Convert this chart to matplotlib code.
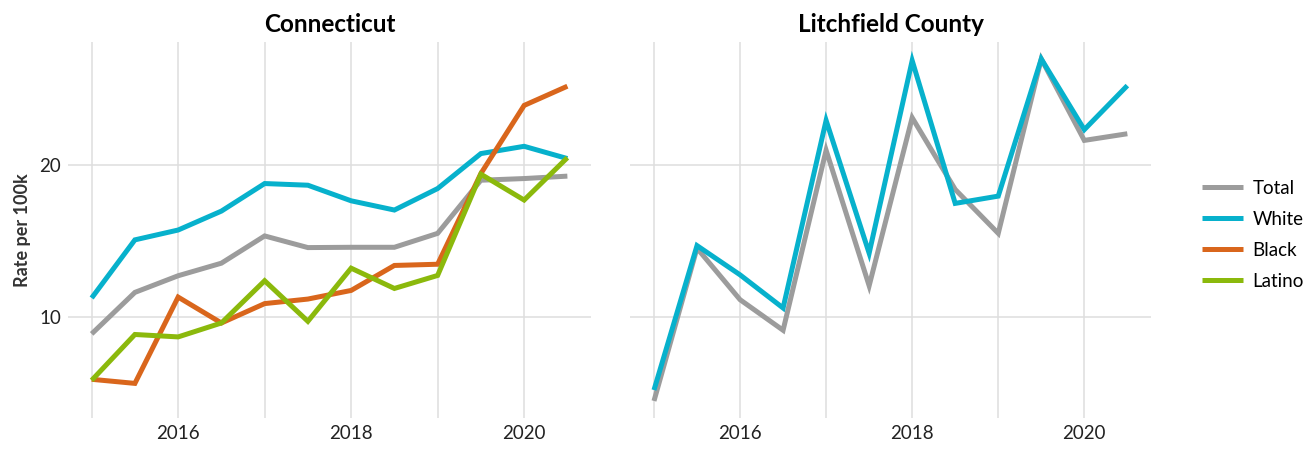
import matplotlib
matplotlib.use("Agg")
import matplotlib.pyplot as plt
import numpy as np
from matplotlib.ticker import FixedLocator

plt.rcParams['font.family'] = ['Lato', 'DejaVu Sans']

years = [2015, 2015.5, 2016, 2016.5, 2017, 2017.5, 2018, 2018.5, 2019, 2019.5, 2020, 2020.5]
panels = ["Connecticut", "Litchfield County"]
groups = ["Total", "White", "Black", "Latino"]
colors = {"Total": "#9c9c9c", "White": "#07b1cc", "Black": "#d9661c", "Latino": "#8bb90c"}

ct_total = [8.86, 11.6, 12.7, 13.53, 15.33, 14.56, 14.58, 14.58, 15.5, 19.01, 19.12, 19.28]
ct_white = [11.23, 15.07, 15.72, 16.97, 18.79, 18.68, 17.65, 17.04, 18.46, 20.77, 21.25, 20.44]
ct_black = [5.86, 5.59, 11.29, 9.58, 10.86, 11.16, 11.73, 13.38, 13.46, 19.45, 23.95, 25.22]
ct_latino = [5.79, 8.82, 8.66, 9.58, 12.37, 9.69, 13.2, 11.86, 12.72, 19.41, 17.7, 20.5]

lc_total = [4.43, 14.52, 11.12, 9.1, 20.99, 12.04, 23.14, 18.4, 15.5, 27.02, 21.64, 22.08]
lc_white = [5.15, 14.69, 12.76, 10.57, 22.96, 14.19, 26.91, 17.48, 17.96, 27.02, 22.35, 25.26]

data = {
    "Connecticut": {"Total": ct_total, "White": ct_white, "Black": ct_black, "Latino": ct_latino},
    "Litchfield County": {"Total": lc_total, "White": lc_white},
}

fig = plt.figure(figsize=(13.05, 4.5), dpi=100)
ax1 = fig.add_axes([0.052, 0.071, 0.401, 0.836])
ax2 = fig.add_axes([0.483, 0.071, 0.399, 0.836], sharey=ax1)

allv = ct_total + ct_white + ct_black + ct_latino + lc_total + lc_white
lo, hi = min(allv), max(allv)
pad = 0.05 * (hi - lo)
xpad = 0.05 * (years[-1] - years[0])

handles = []
for ax, name in zip([ax1, ax2], panels):
    for g in groups:
        vals = data[name].get(g)
        if vals is None:
            h, = ax.plot([], [], color=colors[g], lw=3.6, label=g)
        else:
            h, = ax.plot(years, vals, color=colors[g], lw=3.6, label=g,
                         solid_capstyle='butt', solid_joinstyle='miter')
        if ax is ax1:
            handles.append(h)
    ax.set_xlim(years[0] - xpad, years[-1] + xpad)
    ax.set_ylim(lo - pad, hi + pad)
    ax.xaxis.set_major_locator(FixedLocator([2016, 2018, 2020]))
    ax.xaxis.set_minor_locator(FixedLocator([2015, 2017, 2019]))
    ax.yaxis.set_major_locator(FixedLocator([10, 20]))
    ax.grid(True, which='both', axis='x', color='#dedede', lw=1.1)
    ax.grid(True, which='major', axis='y', color='#dedede', lw=1.1)
    ax.set_axisbelow(True)
    for s in ax.spines.values():
        s.set_visible(False)
    ax.tick_params(which='both', length=0, labelsize=13.5, pad=5, colors='#222222')
    ax.set_xticklabels(['2016', '2018', '2020'])
    ax.set_title(name, fontsize=17.5, fontweight='bold', pad=7)

ax2.tick_params(axis='y', labelleft=False)
ax1.set_ylabel("Rate per 100k", fontsize=13, fontweight='bold', labelpad=6, color='#333333')

fig.legend(handles=handles, labels=groups, loc='center left',
           bbox_to_anchor=(0.908, 0.478), frameon=False, fontsize=13.5,
           handlelength=2.2, handletextpad=0.5, labelspacing=0.75)

fig.savefig("out.png", dpi=100)
